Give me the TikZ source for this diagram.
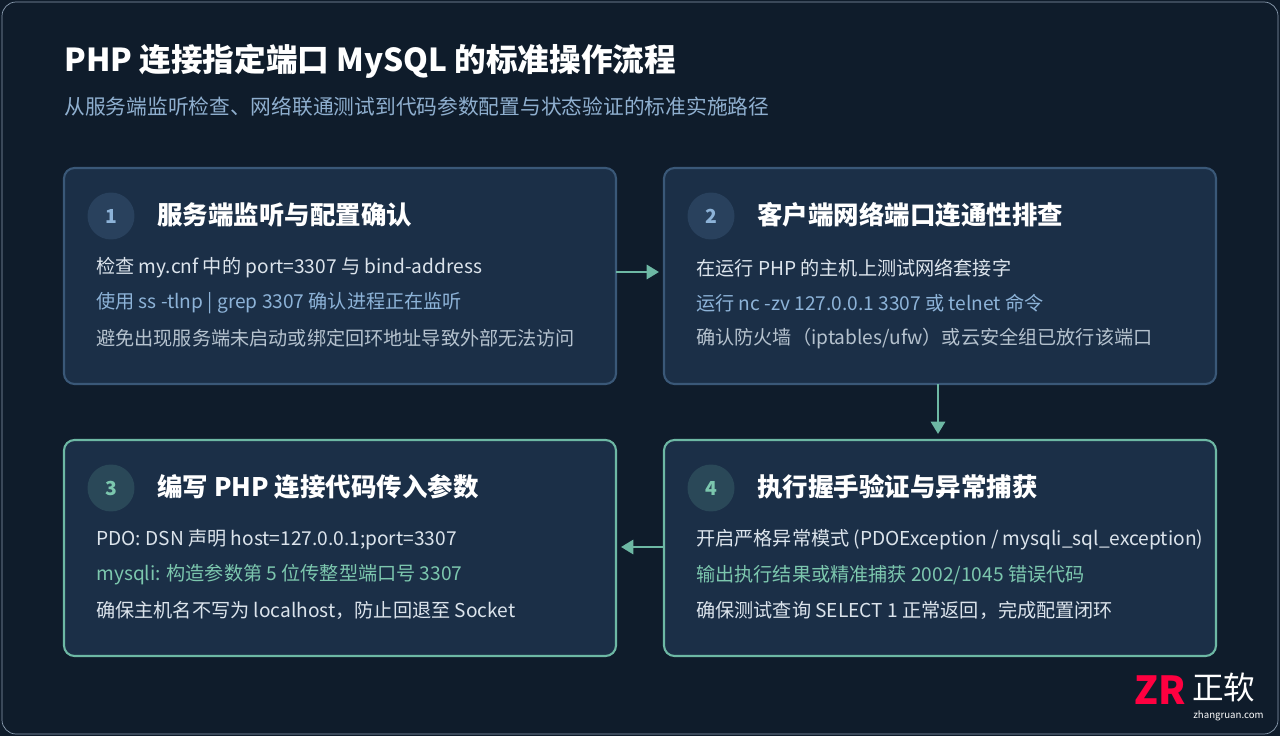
\documentclass[tikz,border=0pt]{standalone}
\usepackage{fontspec}
\setmainfont{Noto Sans CJK SC}
\usetikzlibrary{positioning,arrows.meta}
\definecolor{bgdark}{HTML}{0F1C2B}
\definecolor{cardfill}{HTML}{1B2F47}
\definecolor{cardline}{HTML}{3A5878}
\definecolor{tealline}{HTML}{6DB8A4}
\definecolor{bodytxt}{HTML}{DCE4EC}
\definecolor{bluetxt}{HTML}{8DB3D8}
\definecolor{greentxt}{HTML}{7CC7AE}
\definecolor{greytxt}{HTML}{B5C2CE}
\definecolor{subtxt}{HTML}{8FAFCF}
\tikzset{
  x=0.02cm, y=-0.02cm,
  card/.style={draw=#1, line width=1.2pt, fill=cardfill, rounded corners=6pt},
  badge/.style={circle, minimum size=0.94cm, inner sep=0pt, font=\fontsize{11}{11}\selectfont\bfseries},
  head/.style={anchor=west, inner sep=0pt, text=white, font=\fontsize{14.5}{15}\selectfont\bfseries},
  line/.style={anchor=west, inner sep=0pt, text=#1, font=\fontsize{10.9}{12}\selectfont},
  flow/.style={draw=tealline, line width=1.6pt, -{Triangle[length=7pt,width=8pt]}},
}
\begin{document}
\begin{tikzpicture}
  \useasboundingbox (0,0) rectangle (1280,736);
  \fill[bgdark] (0,0) rectangle (1280,736);
  \draw[cardline!60, rounded corners=8pt] (2,2) rectangle (1278,734);

  \node[anchor=west, inner sep=0pt, text=white, font=\fontsize{18}{18}\selectfont\bfseries] (title) at (64,61) {PHP 连接指定端口 MySQL 的标准操作流程};
  \node[anchor=west, inner sep=0pt, text=subtxt, font=\fontsize{11.8}{12}\selectfont] (subtitle) at (64,107) {从服务端监听检查、网络联通测试到代码参数配置与状态验证的标准实施路径};

  % step 1
  \draw[card=cardline] (64,168) rectangle (616,384);
  \node[badge, fill=cardline!45!cardfill, text=bluetxt] (b1) at (111,216) {1};
  \node[head] (h1) at (157,215) {服务端监听与配置确认};
  \node[line=bodytxt] (a1) at (96,268) {检查 my.cnf 中的 port=3307 与 bind-address};
  \node[line=bluetxt] (a2) at (96,303) {使用 ss -tlnp | grep 3307 确认进程正在监听};
  \node[line=greytxt] (a3) at (96,338) {避免出现服务端未启动或绑定回环地址导致外部无法访问};

  % step 2
  \draw[card=cardline] (664,168) rectangle (1216,384);
  \node[badge, fill=cardline!45!cardfill, text=bluetxt] (b2) at (711,216) {2};
  \node[head] (h2) at (757,215) {客户端网络端口连通性排查};
  \node[line=bodytxt] (c1) at (696,268) {在运行 PHP 的主机上测试网络套接字};
  \node[line=bluetxt] (c2) at (696,303) {运行 nc -zv 127.0.0.1 3307 或 telnet 命令};
  \node[line=greytxt] (c3) at (696,338) {确认防火墙（iptables/ufw）或云安全组已放行该端口};

  % step 3
  \draw[card=tealline] (64,440) rectangle (616,656);
  \node[badge, fill=tealline!18!cardfill, text=greentxt] (b3) at (111,488) {3};
  \node[head] (h3) at (157,487) {编写 PHP 连接代码传入参数};
  \node[line=bodytxt] (d1) at (96,540) {PDO: DSN 声明 host=127.0.0.1;port=3307};
  \node[line=greentxt] (d2) at (96,575) {mysqli: 构造参数第 5 位传整型端口号 3307};
  \node[line=bodytxt] (d3) at (96,610) {确保主机名不写为 localhost，防止回退至 Socket};

  % step 4
  \draw[card=tealline] (664,440) rectangle (1216,656);
  \node[badge, fill=tealline!18!cardfill, text=greentxt] (b4) at (711,488) {4};
  \node[head] (h4) at (757,487) {执行握手验证与异常捕获};
  \node[line=bodytxt] (e1) at (696,540) {开启严格异常模式 (PDOException / mysqli\_sql\_exception)};
  \node[line=greentxt] (e2) at (696,575) {输出执行结果或精准捕获 2002/1045 错误代码};
  \node[line=bodytxt] (e3) at (696,610) {确保测试查询 SELECT 1 正常返回，完成配置闭环};

  % connectors
  \coordinate (p1) at (616,272); \coordinate (p2) at (659,272);
  \coordinate (q1) at (938,384); \coordinate (q2) at (938,434);
  \coordinate (r1) at (664,547); \coordinate (r2) at (621,547);
  \draw[flow] (p1) -- (p2);
  \draw[flow] (q1) -- (q2);
  \draw[flow] (r1) -- (r2);

  % logo
  \node[anchor=east, inner sep=0pt, text=red!75!magenta, font=\fontsize{22}{22}\selectfont\bfseries\itshape] (zr) at (1186,690) {ZR};
  \node[anchor=west, inner sep=0pt, text=white, font=\fontsize{18}{18}\selectfont] (zw) at (1192,687) {正软};
  \node[anchor=west, inner sep=0pt, text=white!80, font=\fontsize{5.5}{6}\selectfont] (url) at (1193,716) {zhangruan.com};
\end{tikzpicture}
\end{document}
